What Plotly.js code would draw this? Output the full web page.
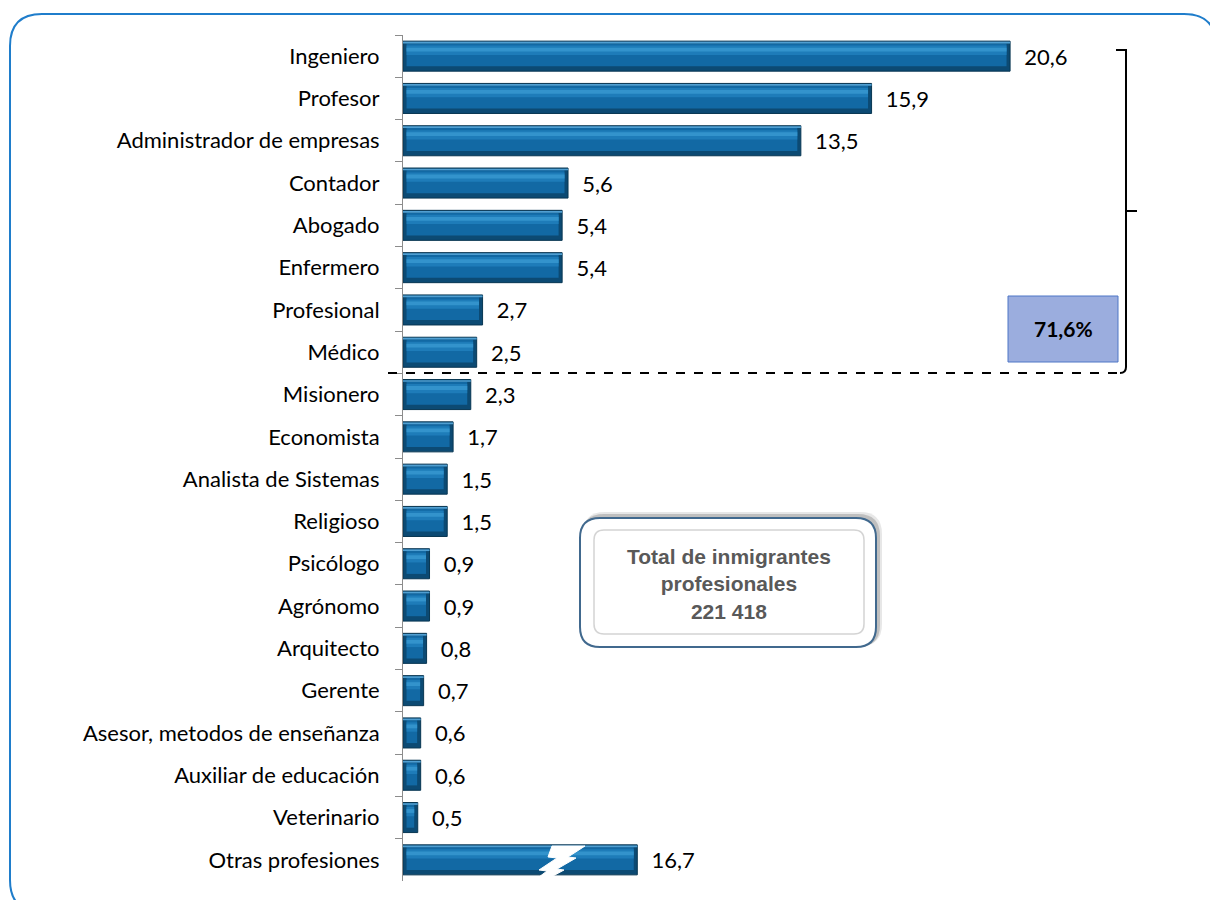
<!DOCTYPE html>
<html>
<head>
<meta charset="utf-8">
<script src="https://cdn.plot.ly/plotly-3.0.1.min.js"></script>
<style>
  html, body { margin: 0; padding: 0; background: #ffffff; }
  #chart { width: 1210px; height: 900px; }
</style>
</head>
<body>
<div id="chart"></div>
<script>
// ---- Data ----
var categories = [
  "Ingeniero", "Profesor", "Administrador de empresas", "Contador", "Abogado",
  "Enfermero", "Profesional", "Médico", "Misionero", "Economista",
  "Analista de Sistemas", "Religioso", "Psicólogo", "Agrónomo", "Arquitecto",
  "Gerente", "Asesor, metodos de enseñanza", "Auxiliar de educación",
  "Veterinario", "Otras profesiones"
];
var values = [20.6, 15.9, 13.5, 5.6, 5.4, 5.4, 2.7, 2.5, 2.3, 1.7,
              1.5, 1.5, 0.9, 0.9, 0.8, 0.7, 0.6, 0.6, 0.5, 16.7];
// "Otras profesiones" is drawn as a broken (truncated) bar in the reference
var brokenCategory = "Otras profesiones";
var brokenShownLength = 7.95;
var topGroupShare = "71,6%";
var totalLines = ["Total de inmigrantes", "profesionales", "221 418"];

// ---- Derived ----
var shown = values.map(function (v, i) {
  return categories[i] === brokenCategory ? brokenShownLength : v;
});
var labels = values.map(function (v) {
  return "\u00a0\u00a0" + v.toFixed(1).replace(".", ",");
});

// ---- Geometry helpers (pixel -> paper) ----
var L = 403, T = 35, R = 1180, B = 881;
var W = R - L, H = B - T;
function px(x) { return (x - L) / W; }
function py(y) { return 1 - (y - T) / H; }
function P(x, y) { return px(x).toFixed(5) + "," + py(y).toFixed(5); }
function roundRect(x0, y0, x1, y1, r) {
  return "M" + P(x0 + r, y0) + " L" + P(x1 - r, y0) +
    " Q" + P(x1, y0) + " " + P(x1, y0 + r) +
    " L" + P(x1, y1 - r) +
    " Q" + P(x1, y1) + " " + P(x1 - r, y1) +
    " L" + P(x0 + r, y1) +
    " Q" + P(x0, y1) + " " + P(x0, y1 - r) +
    " L" + P(x0, y0 + r) +
    " Q" + P(x0, y0) + " " + P(x0 + r, y0) + " Z";
}
function poly(pts) {
  return "M" + pts.map(function (p) { return P(p[0], p[1]); }).join(" L") + " Z";
}

var barW = 0.71;
var endCap = 0.12;
var inner = shown.map(function (v) { return Math.max(v - 2 * endCap, 0.05); });

var traces = [
  { // dark body + outline + value labels
    type: "bar", orientation: "h", y: categories, x: shown,
    width: barW, offset: -barW / 2,
    marker: { color: "#0c4a73", line: { color: "#083652", width: 1 } },
    text: labels, textposition: "outside", constraintext: "none",
    cliponaxis: false,
    textfont: { family: "Lato, 'Noto Sans', sans-serif", size: 22, color: "#000000" },
    hoverinfo: "x+y"
  },
  { // main face
    type: "bar", orientation: "h", y: categories, x: inner, base: endCap,
    width: 0.54, offset: -0.3,
    marker: { color: "#1269a4" }, hoverinfo: "skip"
  },
  { // soft light band
    type: "bar", orientation: "h", y: categories, x: inner, base: endCap,
    width: 0.22, offset: -0.25,
    marker: { color: "#1e7cb9" }, hoverinfo: "skip"
  },
  { // light stripe
    type: "bar", orientation: "h", y: categories, x: inner, base: endCap,
    width: 0.09, offset: -0.2,
    marker: { color: "#3393cc" }, hoverinfo: "skip"
  },
  { // top edge highlight
    type: "bar", orientation: "h", y: categories, x: shown,
    width: 0.04, offset: -barW / 2 + 0.015,
    marker: { color: "#4f9fd2" }, hoverinfo: "skip"
  }
];

var shapes = [
  // outer rounded frame
  { type: "path", xref: "paper", yref: "paper",
    path: roundRect(10, 14, 1216, 912, 32),
    line: { color: "#1f7dcb", width: 2 }, fillcolor: "rgba(0,0,0,0)", layer: "below" },
  // lightning break on the "Otras profesiones" bar
  { type: "path", xref: "paper", yref: "paper",
    path: poly([[552, 846], [585, 846], [568, 857], [576, 858], [557, 869],
                [564, 870], [540, 883], [531, 883], [547, 871], [539, 870],
                [557, 858], [548, 857]]),
    line: { color: "#ffffff", width: 1 }, fillcolor: "#ffffff", layer: "above" },
  // dashed separator
  { type: "line", xref: "paper", yref: "paper",
    x0: px(388), x1: px(1120), y0: py(373), y1: py(373),
    line: { color: "#000000", width: 2, dash: "dash" } },
  // bracket
  { type: "path", xref: "paper", yref: "paper",
    path: "M" + P(1116, 50) + " L" + P(1126, 50) + " L" + P(1126, 367) +
          " Q" + P(1126, 373) + " " + P(1120, 373),
    line: { color: "#000000", width: 2 }, fillcolor: "rgba(0,0,0,0)" },
  { type: "line", xref: "paper", yref: "paper",
    x0: px(1126), x1: px(1137), y0: py(211), y1: py(211),
    line: { color: "#000000", width: 2 } },
  // 71,6% box
  { type: "rect", xref: "paper", yref: "paper",
    x0: px(1008), x1: px(1118), y0: py(296), y1: py(362),
    fillcolor: "#9badde", line: { color: "#4f77c6", width: 1 } },
  // total box: shadow
  { type: "path", xref: "paper", yref: "paper",
    path: roundRect(583, 512, 882, 646, 22),
    line: { color: "rgba(0,0,0,0)", width: 0 }, fillcolor: "rgba(120,120,120,0.18)" },
  { type: "path", xref: "paper", yref: "paper",
    path: roundRect(582, 514, 880, 647, 22),
    line: { color: "rgba(0,0,0,0)", width: 0 }, fillcolor: "rgba(90,90,90,0.28)" },
  // total box: outer
  { type: "path", xref: "paper", yref: "paper",
    path: roundRect(580, 518, 876, 647, 20),
    line: { color: "#41698e", width: 2 }, fillcolor: "#ffffff" },
  // total box: inner
  { type: "path", xref: "paper", yref: "paper",
    path: roundRect(594, 530, 864, 634, 10),
    line: { color: "#d4d4d4", width: 1.5 }, fillcolor: "#ffffff" }
];

var annotations = [
  { xref: "paper", yref: "paper", x: px(1063), y: py(329),
    text: "<b>" + topGroupShare + "</b>", showarrow: false,
    font: { family: "Lato, 'Noto Sans', sans-serif", size: 21, color: "#000000" },
    xanchor: "center", yanchor: "middle" },
  { xref: "paper", yref: "paper", x: px(729), y: py(584),
    text: "<b>" + totalLines.join("<br>") + "</b>", showarrow: false,
    align: "center",
    font: { family: "'Liberation Sans', Arial, sans-serif", size: 21, color: "#595959" },
    xanchor: "center", yanchor: "middle" }
];

var layout = {
  width: 1210, height: 900,
  margin: { l: L, r: 1210 - R, t: T, b: 900 - B, pad: 0 },
  paper_bgcolor: "#ffffff", plot_bgcolor: "rgba(0,0,0,0)",
  barmode: "overlay",
  showlegend: false,
  xaxis: {
    range: [0, W / 29.47], visible: false, showgrid: false, zeroline: false, fixedrange: true
  },
  yaxis: {
    type: "category", categoryorder: "array", categoryarray: categories,
    autorange: "reversed",
    showline: true, linecolor: "#8c8c8c", linewidth: 1,
    ticks: "outside", tickson: "boundaries", ticklen: 7, tickcolor: "#8c8c8c",
    ticklabelstandoff: 18,
    showgrid: false, zeroline: false,
    tickfont: { family: "Lato, 'Noto Sans', sans-serif", size: 22, color: "#000000" }
  },
  shapes: shapes,
  annotations: annotations
};

Plotly.newPlot("chart", traces, layout, { displayModeBar: false, staticPlot: true });
</script>
</body>
</html>
